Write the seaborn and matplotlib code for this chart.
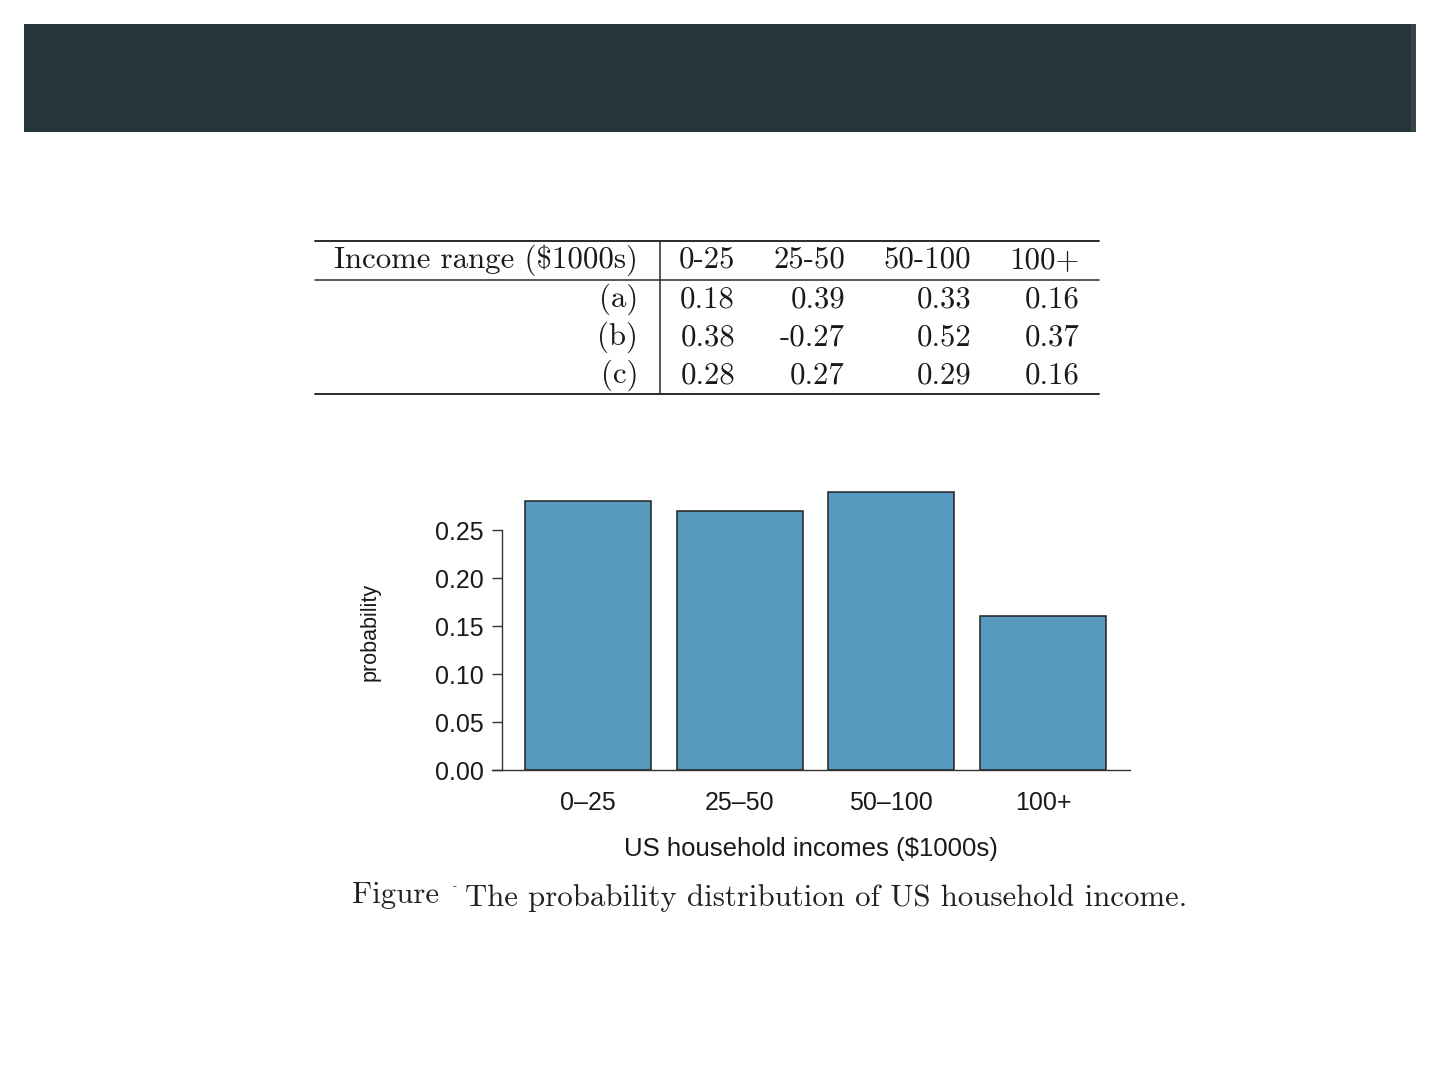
import numpy as np
import pandas as pd
import seaborn as sns
import matplotlib
matplotlib.use("Agg")
import matplotlib.pyplot as plt
from matplotlib.patches import Rectangle
from matplotlib.lines import Line2D

# ---- data ----
categories = ["0\u201325", "25\u201350", "50\u2013100", "100+"]
probabilities = [0.28, 0.27, 0.29, 0.16]
yticks = [0.00, 0.05, 0.10, 0.15, 0.20, 0.25]

table_header = ["0-25", "25-50", "50-100", "100+"]
table_rows = ["(a)", "(b)", "(c)"]
row_a = ["0.18", "0.39", "0.33", "0.16"]
row_b = ["0.38", "-0.27", "0.52", "0.37"]
row_c = ["0.28", "0.27", "0.29", "0.16"]

sns.set_style("white")
plt.rcParams["font.family"] = ["Liberation Sans", "DejaVu Sans"]

W, H = 1440, 1080
fig = plt.figure(figsize=(14.4, 10.8), dpi=100)
fig.patch.set_facecolor("white")

def fx(px):
    return px / W

def fy(py):
    return 1 - py / H

# header bar
fig.patches.append(Rectangle((fx(24), fy(132)), fx(1416) - fx(24), fy(24) - fy(132),
                             transform=fig.transFigure, facecolor="#25373d",
                             edgecolor="none", zorder=0))
fig.patches.append(Rectangle((fx(1411), fy(132)), fx(1416) - fx(1411), fy(24) - fy(132),
                             transform=fig.transFigure, facecolor="#3a4448",
                             edgecolor="none", zorder=1))

# ---- table ----
serif = ["cmr10", "DejaVu Serif"]
tfs = 22.2
tcol = "#1a1a1a"
line_kw = dict(transform=fig.transFigure, color="#2a2a2a")
fig.add_artist(Line2D([fx(315), fx(1099)], [fy(241), fy(241)], lw=1.4, **line_kw))
fig.add_artist(Line2D([fx(315), fx(1099)], [fy(280), fy(280)], lw=1.1, **line_kw))
fig.add_artist(Line2D([fx(315), fx(1099)], [fy(394), fy(394)], lw=1.4, **line_kw))
fig.add_artist(Line2D([fx(660), fx(660)], [fy(241), fy(394)], lw=1.1, **line_kw))

col_right = [735, 845, 971, 1080]
fig.text(fx(638), fy(268), "Income range ($1000s)", ha="right", va="baseline",
         fontsize=tfs, family=serif, color=tcol, parse_math=False)
for xr, h in zip(col_right, table_header):
    fig.text(fx(xr), fy(268), h, ha="right", va="baseline", fontsize=tfs,
             family=serif, color=tcol)
for i, (lab, row) in enumerate(zip(table_rows, [row_a, row_b, row_c])):
    yb = 307 + 38 * i
    fig.text(fx(638), fy(yb), lab, ha="right", va="baseline", fontsize=tfs,
             family=serif, color=tcol)
    for xr, v in zip(col_right, row):
        fig.text(fx(xr), fy(yb), v, ha="right", va="baseline", fontsize=tfs,
                 family=serif, color=tcol)

# ---- bar chart ----
ax = fig.add_axes([fx(492), fy(770), fx(1130) - fx(492), fy(482) - fy(770)])
df = pd.DataFrame({"income": categories, "probability": probabilities})
sns.barplot(data=df, x="income", y="probability", ax=ax, color="#5899bf",
            saturation=1, width=0.83, edgecolor="#222222", linewidth=1.1)
ax.set_xlim(-0.633, 3.573)
ax.set_ylim(0, 0.30)
ax.set_facecolor("white")

for s in ["top", "right"]:
    ax.spines[s].set_visible(False)
ax.spines["bottom"].set_color("#333333")
ax.spines["bottom"].set_linewidth(1.0)
ax.spines["left"].set_color("#333333")
ax.spines["left"].set_linewidth(1.0)
ax.spines["left"].set_position(("data", -0.567))
ax.spines["left"].set_bounds(0, 0.25)

ax.set_yticks(yticks)
ax.set_yticklabels([f"{t:.2f}" for t in yticks])
ax.tick_params(axis="y", left=True, length=7, width=1.0, color="#333333",
               pad=6, labelsize=18, labelcolor="#1a1a1a")
ax.tick_params(axis="x", bottom=False, length=0, pad=15, labelsize=18,
               labelcolor="#1a1a1a")

ax.set_xlabel("US household incomes ($1000s)", fontsize=18.5, color="#1a1a1a",
              labelpad=16)
ax.set_ylabel("probability", fontsize=15.5, color="#1a1a1a")
ax.yaxis.set_label_coords(-0.175, 0.479)

# ---- caption ----
fig.text(fx(352), fy(903), "Figure", ha="left", va="baseline", fontsize=tfs,
         family=serif, color="#222222")
fig.text(fx(453), fy(889), "-", ha="left", va="baseline", fontsize=9,
         family=serif, color="#444444")
fig.text(fx(465), fy(906), "The probability distribution of US household income.",
         ha="left", va="baseline", fontsize=tfs, family=serif, color="#222222")

fig.savefig("out.png", dpi=100, facecolor="white")
